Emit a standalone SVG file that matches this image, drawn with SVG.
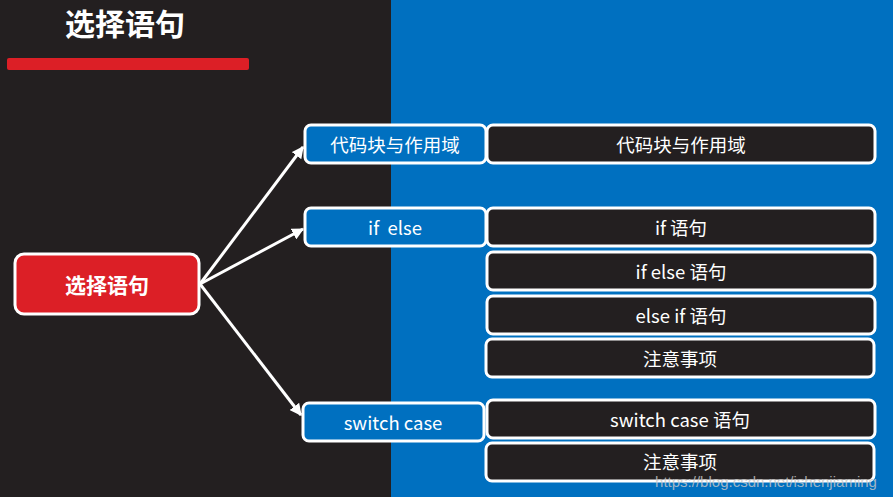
<svg xmlns="http://www.w3.org/2000/svg" width="893" height="497" viewBox="0 0 893 497">
<style>
text{font-family:"Noto Sans CJK SC","Noto Sans",sans-serif;fill:#ffffff;text-anchor:middle;dominant-baseline:central}
.blue rect{fill:#0070c0;stroke:#ffffff;stroke-width:3}
.dark rect{fill:#231f20;stroke:#ffffff;stroke-width:3}
.t{font-size:18.5px}
.conn line{stroke:#ffffff;stroke-width:3;marker-end:url(#ah)}
</style>
<defs>
<marker id="ah" viewBox="0 0 10 10" refX="9" refY="5" markerWidth="4" markerHeight="4" orient="auto" markerUnits="strokeWidth">
<path d="M0,0 L10,5 L0,10 z" fill="#ffffff"/>
</marker>
</defs>
<rect x="0" y="0" width="391" height="497" fill="#231f20"/>
<rect x="391" y="0" width="502" height="497" fill="#0070c0"/>
<g id="title">
<text x="125" y="22" style="font-size:30px;font-weight:bold">选择语句</text>
<rect x="7" y="58" width="242" height="12" rx="2" fill="#dc1f26"/>
</g>
<g class="conn" id="connectors">
<line x1="200" y1="284" x2="303" y2="147"/>
<line x1="200" y1="284" x2="303" y2="229"/>
<line x1="200" y1="284" x2="301" y2="415"/>
</g>
<g id="root"><rect x="15" y="254" width="184" height="60" rx="9" fill="#dc1f26" stroke="#ffffff" stroke-width="3"/><text x="107" y="284" style="font-size:21px;font-weight:bold">选择语句</text></g>
<g id="n1" class="blue"><rect x="305" y="125" width="181" height="38" rx="6"/><text class="t" x="395" y="144">代码块与作用域</text></g>
<g id="n2" class="blue"><rect x="305" y="208" width="181" height="38" rx="6"/><text class="t" x="395" y="227" xml:space="preserve">if  else</text></g>
<g id="n3" class="blue"><rect x="303" y="403" width="181" height="38" rx="6"/><text class="t" x="393" y="422">switch case</text></g>
<g id="d1" class="dark"><rect x="487" y="125" width="388" height="38" rx="6"/><text class="t" x="681" y="144">代码块与作用域</text></g>
<g id="d2" class="dark"><rect x="487" y="208" width="388" height="38" rx="6"/><text class="t" x="681" y="227">if 语句</text></g>
<g id="d3" class="dark"><rect x="487" y="252" width="388" height="38" rx="6"/><text class="t" x="681" y="271">if else 语句</text></g>
<g id="d4" class="dark"><rect x="487" y="296" width="388" height="38" rx="6"/><text class="t" x="681" y="315">else if 语句</text></g>
<g id="d5" class="dark"><rect x="486" y="339" width="388" height="38" rx="6"/><text class="t" x="680" y="358">注意事项</text></g>
<g id="d6" class="dark"><rect x="487" y="400" width="388" height="38" rx="6"/><text class="t" x="680" y="419">switch case 语句</text></g>
<g id="d7" class="dark"><rect x="486" y="443" width="388" height="38" rx="6"/><text class="t" x="680" y="461">注意事项</text></g>
<text x="766" y="481" style="font-family:'Liberation Sans',sans-serif;font-size:15px;fill:#c8c8c8;fill-opacity:0.8">https://blog.csdn.net/ishenjiaming</text>
</svg>
